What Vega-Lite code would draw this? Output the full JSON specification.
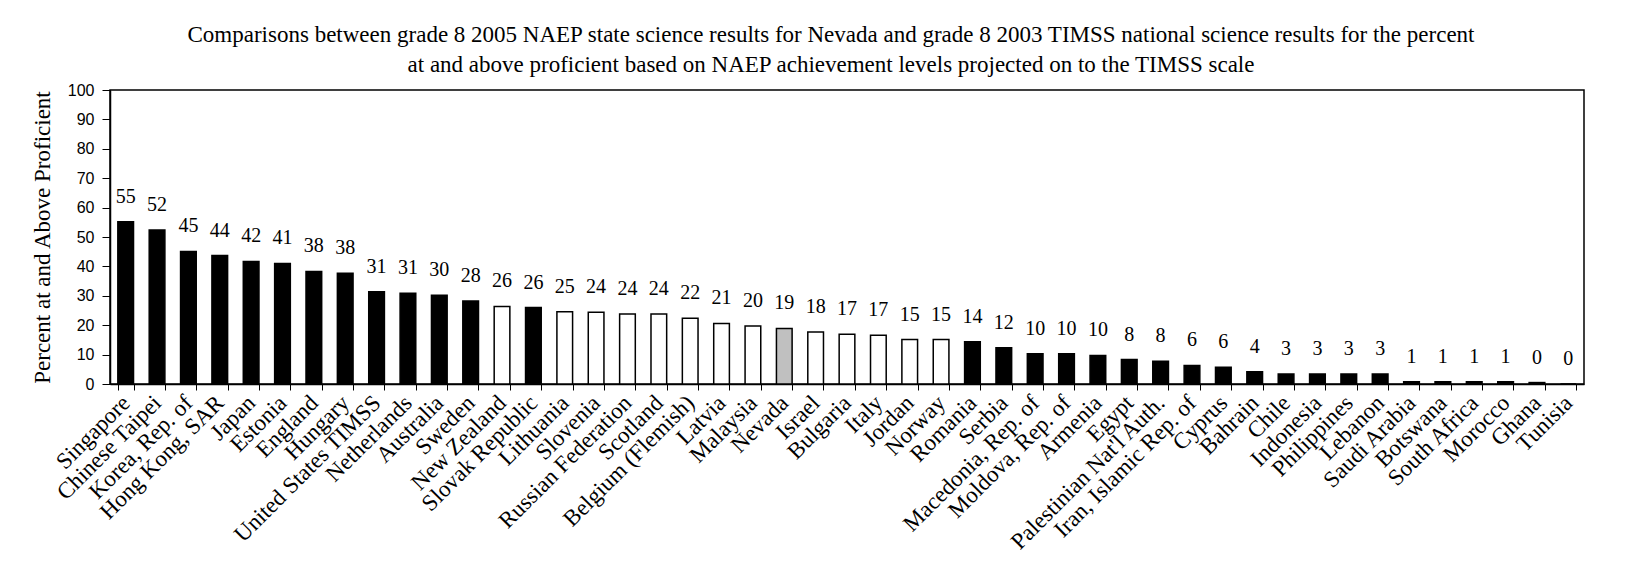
{
  "$schema": "https://vega.github.io/schema/vega-lite/v6.json",
  "width": 1474,
  "height": 294,
  "autosize": {"type": "none"},
  "padding": {"left": 110, "top": 90, "right": 58, "bottom": 181},
  "background": "white",
  "title": {
    "text": ["Comparisons between grade 8 2005 NAEP state science results for Nevada and grade 8 2003 TIMSS national science results for the percent", "at and above proficient based on NAEP achievement levels projected on to the TIMSS scale"],
    "anchor": "middle",
    "frame": "group",
    "dx": -16,
    "font": "Liberation Serif",
    "fontSize": 23,
    "fontWeight": "normal",
    "color": "black",
    "lineHeight": 30,
    "baseline": "bottom",
    "offset": -18
  },
  "data": {
    "values": [
      {"country": "Singapore", "value": 55.2, "status": "Higher"},
      {"country": "Chinese Taipei", "value": 52.4, "status": "Higher"},
      {"country": "Korea, Rep. of", "value": 45.1, "status": "Higher"},
      {"country": "Hong Kong, SAR", "value": 43.7, "status": "Higher"},
      {"country": "Japan", "value": 41.7, "status": "Higher"},
      {"country": "Estonia", "value": 41.0, "status": "Higher"},
      {"country": "England", "value": 38.3, "status": "Higher"},
      {"country": "Hungary", "value": 37.7, "status": "Higher"},
      {"country": "United States TIMSS", "value": 31.4, "status": "Higher"},
      {"country": "Netherlands", "value": 30.9, "status": "Higher"},
      {"country": "Australia", "value": 30.2, "status": "Higher"},
      {"country": "Sweden", "value": 28.2, "status": "Higher"},
      {"country": "New Zealand", "value": 26.4, "status": "Not different"},
      {"country": "Slovak Republic", "value": 26.0, "status": "Higher"},
      {"country": "Lithuania", "value": 24.6, "status": "Not different"},
      {"country": "Slovenia", "value": 24.4, "status": "Not different"},
      {"country": "Russian Federation", "value": 23.8, "status": "Not different"},
      {"country": "Scotland", "value": 23.8, "status": "Not different"},
      {"country": "Belgium (Flemish)", "value": 22.4, "status": "Not different"},
      {"country": "Latvia", "value": 20.6, "status": "Not different"},
      {"country": "Malaysia", "value": 19.7, "status": "Not different"},
      {"country": "Nevada", "value": 18.9, "status": "Nevada"},
      {"country": "Israel", "value": 17.7, "status": "Not different"},
      {"country": "Bulgaria", "value": 16.9, "status": "Not different"},
      {"country": "Italy", "value": 16.6, "status": "Not different"},
      {"country": "Jordan", "value": 15.1, "status": "Not different"},
      {"country": "Norway", "value": 15.1, "status": "Not different"},
      {"country": "Romania", "value": 14.4, "status": "Lower"},
      {"country": "Serbia", "value": 12.3, "status": "Lower"},
      {"country": "Macedonia, Rep. of", "value": 10.3, "status": "Lower"},
      {"country": "Moldova, Rep. of", "value": 10.3, "status": "Lower"},
      {"country": "Armenia", "value": 9.7, "status": "Lower"},
      {"country": "Egypt", "value": 8.3, "status": "Lower"},
      {"country": "Palestinian Nat'l Auth.", "value": 7.7, "status": "Lower"},
      {"country": "Iran, Islamic Rep. of", "value": 6.3, "status": "Lower"},
      {"country": "Cyprus", "value": 5.7, "status": "Lower"},
      {"country": "Bahrain", "value": 4.2, "status": "Lower"},
      {"country": "Chile", "value": 3.4, "status": "Lower"},
      {"country": "Indonesia", "value": 3.4, "status": "Lower"},
      {"country": "Philippines", "value": 3.4, "status": "Lower"},
      {"country": "Lebanon", "value": 3.4, "status": "Lower"},
      {"country": "Saudi Arabia", "value": 0.8, "status": "Lower"},
      {"country": "Botswana", "value": 0.8, "status": "Lower"},
      {"country": "South Africa", "value": 0.8, "status": "Lower"},
      {"country": "Morocco", "value": 0.8, "status": "Lower"},
      {"country": "Ghana", "value": 0.49, "status": "Lower"},
      {"country": "Tunisia", "value": 0, "status": "Lower"}
    ]
  },
  "encoding": {
    "x": {
      "field": "country",
      "type": "nominal",
      "sort": null,
      "scale": {"paddingInner": 0.5, "paddingOuter": 0.25},
      "axis": {
        "title": null,
        "labelAngle": -45,
        "labelAlign": "right",
        "labelBaseline": "middle",
        "labelFont": "Liberation Serif",
        "labelFontSize": 23,
        "labelColor": "black",
        "labelPadding": 9,
        "labelOverlap": false,
        "labelLimit": 300,
        "tickSize": 6,
        "tickBand": "extent",
        "tickColor": "black",
        "domainColor": "black",
        "domainWidth": 1.5
      }
    },
    "y": {
      "field": "value",
      "type": "quantitative",
      "scale": {"domain": [0, 100], "nice": false},
      "axis": {
        "title": "Percent at and Above Proficient",
        "titleFont": "Liberation Serif",
        "titleFontSize": 23,
        "titleFontWeight": "normal",
        "titleColor": "black",
        "titlePadding": 13,
        "values": [0, 10, 20, 30, 40, 50, 60, 70, 80, 90, 100],
        "labelFont": "Liberation Sans",
        "labelFontSize": 16,
        "labelColor": "black",
        "labelPadding": 8,
        "tickSize": 8,
        "tickColor": "black",
        "grid": false,
        "domainColor": "black",
        "domainWidth": 1.5
      }
    }
  },
  "layer": [
    {
      "mark": {"type": "bar", "stroke": "black", "strokeWidth": 1.5},
      "encoding": {
        "fill": {
          "field": "status",
          "type": "nominal",
          "scale": {"domain": ["Higher", "Not different", "Lower", "Nevada"], "range": ["black", "white", "black", "#C0C0C0"]},
          "legend": null
        }
      }
    },
    {
      "mark": {"type": "text", "font": "Liberation Serif", "fontSize": 20, "color": "black", "baseline": "alphabetic", "dy": -19},
      "encoding": {
        "text": {"field": "value", "type": "quantitative", "format": ".0f"}
      }
    }
  ],
  "config": {
    "view": {"stroke": "black", "strokeWidth": 1.5}
  }
}
